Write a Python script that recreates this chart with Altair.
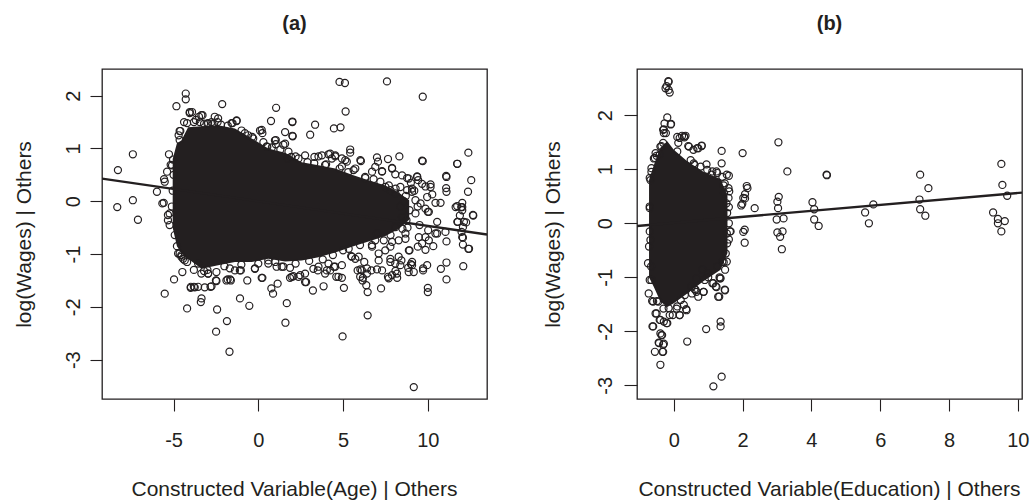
import altair as alt
import pandas as pd

INK = "#231f20"
FONT = "Liberation Sans"

# ---------------- Panel (a): Constructed Variable(Age) ----------------
a_core_x  = [-5.05, -4.8, -4.54, -4.14, -3.35, -2.37, -1.38, -0.39, 0.59, 1.58, 2.56, 3.55, 4.54, 5.52, 6.5, 7.5, 8.3, 8.9]
a_core_hi = [0.80, 1.10, 1.15, 1.40, 1.42, 1.44, 1.38, 1.19, 1.00, 0.92, 0.74, 0.68, 0.62, 0.50, 0.40, 0.30, 0.16, 0.02]
a_core_lo = [-0.50, -0.85, -0.98, -1.09, -1.28, -1.21, -1.15, -1.15, -1.09, -1.14, -1.12, -1.06, -0.97, -0.86, -0.76, -0.66, -0.52, -0.35]

a_points = [
    (-8.28, 0.59), (-7.40, 0.89), (-8.32, -0.11), (-7.40, 0.02), (-7.10, -0.35), (-5.98, 0.18), (-5.52, -1.75), (-5.58, -0.03),
    (-4.97, -1.48), (-4.48, -1.34), (-4.20, -2.03), (-4.83, 1.80), (-4.28, 2.04), (-4.28, 1.93), (-3.98, -1.62), (-3.55, -1.62),
    (-3.39, -1.91), (-3.35, -1.84), (-2.76, -1.61), (-2.49, -2.47), (-2.43, -2.05), (-1.85, -2.27), (-1.70, -2.85), (-2.13, 1.84),
    (-3.29, 1.63), (-1.08, -1.84), (-0.53, -1.98), (-0.65, -1.50), (0.77, -1.65), (0.87, -1.75), (1.14, -1.56), (1.68, -1.93),
    (1.60, -2.30), (1.05, 1.77), (0.75, 1.52), (2.01, 1.50), (2.03, 1.23), (3.35, 1.45), (3.06, 1.26), (3.22, -1.69), (3.85, -1.61),
    (4.46, 1.38), (4.85, 1.40), (4.79, 2.26), (5.11, 2.24), (5.15, 1.70), (5.42, 0.98), (5.42, 0.92), (4.97, -2.56), (5.05, -1.64),
    (4.93, -1.45), (6.45, -2.16), (6.45, -1.72), (6.37, -1.59), (7.24, -1.65), (7.59, 2.27), (7.65, 0.80), (7.00, 0.83), (8.32, 0.85),
    (9.70, 1.98), (9.70, 0.76), (9.17, -3.52), (10.0, -1.64), (10.0, -1.72), (9.72, -1.31), (11.10, 0.46), (11.10, 0.18), (11.10, -0.76),
    (11.10, -1.16), (11.10, -1.48), (11.74, 0.71), (12.39, 0.92), (12.56, 0.40), (12.68, -0.27), (12.37, 0.18), (12.39, -0.90), (12.09, -1.23),
    (12.03, -0.03), (11.97, -0.11), (12.03, -0.17), (11.89, -0.27), (11.74, -0.39), (12.13, -0.39), (12.07, -0.49), (11.99, -0.58), (12.03, -0.68),
    (11.64, -0.11), (10.45, -0.03), (10.75, -0.03), (10.16, 0.32), (10.0, -0.20), (10.55, -0.39), (10.55, -0.61), (10.77, -1.28), (10.32, -0.85),
    (9.86, -0.92), (9.17, -1.34), (8.84, -1.26), (9.0, -1.19), (9.41, -0.86), (8.92, -0.93), (8.44, -1.12), (8.09, -1.32), (8.19, -1.45),
    (7.65, -1.43), (7.30, -1.31), (7.10, -1.12), (7.79, -1.09), (6.67, -1.31), (6.17, -1.45), (6.02, -1.29), (5.86, -1.31), (6.25, -1.15),
    (5.72, -1.09), (5.48, -1.04), (4.60, -1.43), (4.46, -1.24), (4.24, -1.31), (4.04, -1.31), (3.51, -1.31), (3.25, -1.28), (2.76, -1.53),
    (2.47, -1.40), (2.07, -1.42), (1.87, -1.45), (1.87, -1.26), (1.48, -1.24), (1.08, -1.24), (0.59, -1.12), (0.20, -1.45), (-0.20, -1.28),
    (-1.03, -1.31), (-1.38, -1.31), (-1.66, -1.48), (-1.81, -1.48), (-2.50, -1.50), (-2.96, -1.37), (-3.20, -1.32), (-3.55, -1.18), (-3.80, -1.62),
    (-4.54, -1.02), (-4.44, -1.09), (-4.73, -0.99), (-4.93, -0.64), (-5.33, -0.36), (-5.23, -0.23), (-5.52, 0.37), (-5.38, 0.56), (-5.27, 0.89),
    (-5.09, 0.68), (-4.64, 1.33), (-4.64, 1.16), (-4.38, 1.50), (-4.04, 1.69), (-3.91, 1.69), (-3.45, 1.50), (-3.0, 1.47), (-2.76, 1.50),
    (-2.37, 1.57), (-1.52, 1.48), (-1.28, 1.53), (-0.99, 1.34), (-0.36, 1.22), (0.10, 1.34), (0.24, 1.29), (0.53, 1.03), (1.03, 1.16), (1.03, 1.08),
    (1.58, 1.31), (1.58, 1.09), (1.93, 0.84), (1.74, 0.81), (2.76, 0.87), (3.31, 0.84), (3.75, 0.87), (4.24, 0.90), (4.54, 0.87), (4.93, 0.81),
    (5.13, 0.78), (5.72, 0.62), (6.02, 0.78), (6.71, 0.56), (6.90, 0.65), (7.30, 0.56), (7.89, 0.62), (8.48, 0.49), (8.88, 0.43), (9.37, 0.46),
    (9.43, 0.40), (9.66, 0.33), (10.16, 0.27),
    (9.27, 0.02), (9.57, -0.04), (9.96, 0.08), (9.86, -0.14), (9.27, -0.23), (8.92, -0.17), (8.74, -0.36), (9.51, -0.45), (10.02, -0.55), (9.86, -0.68),
    (8.48, -0.30), (8.09, -0.49), (8.28, -0.74), (8.68, -0.61), (7.79, -0.86), (7.40, -0.74), (7.0, -0.61), (6.71, -0.86),
    (7.50, 0.27), (7.79, 0.21), (8.09, 0.15), (8.38, 0.27), (8.78, 0.21), (9.07, 0.24),
    (8.60, 0.00), (9.20, 0.20), (9.40, -0.10), (8.80, -0.50), (9.00, 0.35), (8.40, -0.10), (8.70, 0.10),
    (2.01, 1.51), (2.01, 1.24), (-3.36, 1.63), (-4.60, 1.33), (-5.56, 0.42), (-5.66, -0.04), (-5.17, 0.69), (-5.03, 0.79), (-5.33, -0.26), (-5.23, -0.45),
    (-4.05, 1.67), (-2.96, 1.48), (-2.40, 1.50), (-1.28, 1.52), (-1.58, 1.48), (-0.79, 1.29), (-0.30, 1.19), (0.20, 1.35), (0.49, 1.04), (0.98, 1.15),
    (1.48, 1.07), (1.78, 0.94), (-2.57, 1.60), (-3.50, 1.60), (-3.69, 1.54),
    (6.05, 0.76), (7.06, 0.75), (9.66, 0.77), (11.73, 0.71), (11.08, 0.48), (11.08, 0.25), (11.73, -0.09), (12.03, -0.11), (12.66, -0.26), (11.77, -0.39),
    (12.26, -0.40), (10.06, -0.20), (8.78, 0.44), (9.37, 0.47), (9.86, 0.28), (10.26, 0.13), (9.07, 0.18), (7.89, 0.63), (8.08, 0.51), (7.30, 0.57),
    (6.31, 0.44), (5.62, 0.59), (5.22, 0.75), (4.93, 0.66), (4.34, 0.81), (3.94, 0.69), (3.55, 0.85), (2.37, 0.81), (4.14, 0.89), (4.53, 0.85),
    (0.24, -1.45), (-1.88, -1.50), (-1.62, -1.50), (-2.47, -1.51), (-2.82, -1.62), (-3.16, -1.63), (-3.75, -1.63), (-3.99, -1.64),
    (-4.54, -1.05), (-4.64, -0.99), (-4.34, -1.12), (-3.36, -1.37), (-2.96, -1.37), (-2.47, -1.34), (-1.68, -1.27), (-1.09, -1.31), (-0.20, -1.27),
    (0.59, -1.18), (1.38, -1.24), (1.97, -1.43), (2.37, -1.43),
    (6.15, -1.50), (2.82, -1.53), (12.43, -0.90), (12.07, -0.82), (12.07, -0.69), (9.72, -1.27), (9.96, -1.21), (9.07, -1.15), (9.07, -1.21),
    (8.87, -1.34), (8.38, -1.21), (8.08, -1.18), (7.79, -1.15), (8.18, -1.37), (7.89, -1.40), (7.69, -1.46), (7.0, -1.29), (6.41, -1.37),
    (6.11, -1.31), (6.01, -1.43), (6.41, -1.27), (4.73, -1.43), (4.93, -1.21), (5.52, -1.05), (4.53, -1.24), (4.14, -1.18), (3.94, -1.37),
    (3.55, -1.24), (2.76, -1.37), (8.88, -0.93), (8.28, -1.05), (7.49, -0.93), (7.1, -0.99), (6.7, -0.83), (5.92, -1.05), (5.33, -0.90),
    (10.06, -0.74), (10.45, -0.61), (9.47, -0.68), (11.04, -0.58), (9.66, -0.80), (8.68, -0.71), (7.89, -0.77),
    # fringe of the dense cloud
    (-4.70, 1.25), (-4.20, 1.48), (-3.80, 1.50), (-3.20, 1.47), (-2.70, 1.46), (-2.20, 1.45), (-1.80, 1.43), (-0.60, 1.25),
    (0.30, 1.12), (0.80, 1.02), (1.30, 0.98), (2.20, 0.85), (2.90, 0.74), (3.30, 0.72), (4.00, 0.70), (4.80, 0.62), (5.30, 0.55),
    (6.30, 0.46), (6.80, 0.42), (7.20, 0.37), (7.70, 0.30), (8.10, 0.24),
    (-4.80, -0.85), (-4.20, -1.15), (-3.80, -1.30), (-3.00, -1.30), (-2.00, -1.23), (-1.00, -1.20), (0.00, -1.18), (1.00, -1.15),
    (2.20, -1.18), (3.00, -1.13), (3.80, -1.10), (4.40, -1.02), (5.00, -0.93), (6.00, -0.83), (6.90, -0.74), (7.80, -0.64), (8.50, -0.52),
    (-5.05, 0.20), (-5.10, -0.10), (-5.00, 0.50),
]
a_line_x = [-9.22, 13.49]
a_line_y = [0.43, -0.63]

# ---------------- Panel (b): Constructed Variable(Education) ----------------
b_core_x  = [-0.72, -0.58, -0.39, -0.19, 0.0, 0.39, 0.87, 1.36, 1.56]
b_core_hi = [0.80, 1.08, 1.40, 1.52, 1.36, 1.15, 0.95, 0.82, 0.50]
b_core_lo = [-1.00, -1.18, -1.45, -1.55, -1.48, -1.30, -1.07, -0.86, -0.55]

b_points = [
    (-0.15, 2.62), (-0.24, 2.50), (-0.15, 2.47), (-0.12, 2.42), (-0.19, 1.96), (-0.08, 1.84), (-0.27, 1.85), (-0.29, 1.74), (-0.29, 1.67),
    (0.24, 1.62), (0.34, 1.62), (0.31, 1.59), (0.10, 1.60), (0.81, 1.44), (0.68, 1.39), (0.44, 1.42), (1.39, 1.34), (1.39, 1.11), (1.60, 0.88),
    (1.61, 0.59), (1.65, -0.15), (1.48, -1.23), (1.32, -1.36), (1.36, -1.02), (1.33, -1.00), (1.36, -1.82), (1.36, -1.91), (1.39, -2.84), (1.15, -3.02),
    (0.94, -1.96), (0.87, -1.27), (0.71, -1.36), (0.39, -2.19), (0.36, -1.59), (0.17, -1.70), (-0.03, -1.70), (-0.19, -1.85), (-0.34, -2.07),
    (-0.39, -2.04), (-0.29, -2.23), (-0.44, -2.21), (-0.55, -2.38), (-0.31, -2.38), (-0.39, -2.62), (-0.60, -1.91), (-0.53, -1.67), (-0.63, -1.44),
    (-0.49, -1.44), (-0.39, -1.79), (-0.29, -1.82), (-0.15, -1.57), (0.10, -1.54), (0.29, -1.51), (0.53, -1.30), (0.63, -1.23), (1.12, -1.11), (1.22, -1.17),
    (0.83, -0.86), (0.97, -0.93), (1.26, -0.80), (1.41, -0.71), (1.51, -0.56), (1.55, -0.37), (1.54, -0.19),
    (1.55, 0.19), (1.53, 0.37), (1.46, 0.56), (1.48, 0.74), (1.41, 0.86), (1.26, 0.93), (1.12, 0.96), (0.97, 0.99), (0.78, 1.05), (0.58, 1.11), (0.49, 1.17),
    (-0.68, 0.80), (-0.70, 0.31), (-0.68, -0.31), (-0.66, -0.80), (-0.73, -1.30), (-0.58, 1.20), (-0.53, 1.30), (-0.39, 1.42),
    (2.00, 1.30), (2.14, 0.65), (2.07, 0.54), (2.07, 0.46), (1.96, 0.33), (2.35, 0.28), (2.06, -0.12), (2.06, -0.36),
    (3.04, 1.50), (3.30, 0.96), (3.05, 0.49), (3.01, 0.40), (3.03, 0.28), (2.99, 0.07), (3.19, 0.09), (3.01, -0.17), (3.09, -0.25), (3.16, -0.15), (3.14, -0.48),
    (4.03, 0.39), (4.08, 0.26), (4.08, 0.07), (4.21, -0.05), (4.44, 0.90), (4.45, 0.89),
    (5.56, 0.20), (5.67, 0.00), (5.80, 0.35),
    (7.16, 0.90), (7.40, 0.65), (7.14, 0.44), (7.16, 0.26), (7.31, 0.14),
    (9.52, 1.10), (9.55, 0.71), (9.69, 0.51), (9.28, 0.20), (9.42, 0.08), (9.62, 0.04), (9.42, 0.00), (9.52, -0.15),
    (-0.16, 2.63), (-0.21, 2.54), (-0.09, 1.83), (-0.31, 1.73), (-0.23, 1.67), (0.30, 1.61), (0.17, 1.58), (0.13, 1.49), (0.42, 1.43), (0.71, 1.39),
    (0.57, 1.36), (0.81, 1.43), (-0.31, 1.49), (-0.36, 1.43), (-0.41, 1.27), (-0.55, 1.21), (-0.65, 1.02), (-0.70, 0.84), (0.95, 1.09), (1.24, 0.96),
    (1.54, 0.90), (1.59, 0.65), (1.59, 0.47), (2.12, 0.69), (2.02, 0.47), (1.99, 0.36), (1.63, -0.15), (-0.70, 0.28), (-0.70, -0.15),
    (-0.62, -1.91), (-0.33, -2.38), (-0.43, -2.22), (-0.31, -2.25), (-0.36, -2.07), (-0.50, -1.67), (-0.41, -1.79), (-0.21, -1.85),
    (-0.60, -1.45), (-0.45, -1.45), (-0.12, -1.70), (0.17, -1.70), (0.37, -1.61), (0.08, -1.58), (0.32, -1.33), (0.66, -1.27), (0.86, -1.27),
    (1.34, -1.02), (1.29, -1.36), (1.49, -1.24), (1.24, -1.18), (1.15, -1.11), (1.54, -0.71), (1.49, -0.86), (0.66, -1.02), (0.90, -1.05),
    (0.52, -1.17), (-0.70, -1.05), (-0.75, -0.74), (-0.72, -0.43), (2.02, -0.16),
    # fringe of the dense cloud
    (-0.65, 0.95), (-0.50, 1.25), (0.10, 1.33), (0.60, 1.08), (1.10, 0.90), (1.45, 0.70),
    (-0.65, -1.05), (-0.30, -1.58), (0.20, -1.42), (0.60, -1.22), (1.00, -1.00), (1.45, -0.72),
    (1.60, 0.30), (1.60, 0.00), (1.60, -0.30),
]
b_line_x = [-1.07, 10.12]
b_line_y = [-0.05, 0.567]


def panel(core_x, core_hi, core_lo, pts, line_x, line_y, xdom, ydom, xticks, yticks,
          title, xtitle, ytitle, ytitle_x, ytick, ylabpad):
    core = pd.DataFrame({"x": core_x, "hi": core_hi, "lo": core_lo})
    dots = pd.DataFrame(pts, columns=["x", "y"])
    line = pd.DataFrame({"x": line_x, "y": line_y})
    xs = alt.Scale(domain=xdom, nice=False, zero=False)
    ys = alt.Scale(domain=ydom, nice=False, zero=False)
    xaxis = alt.Axis(values=xticks, labelExpr="'' + datum.value", grid=False, domain=False,
                     tickSize=12, tickColor=INK, tickWidth=1.1, labelFontSize=20, labelFont=FONT,
                     labelColor=INK, labelPadding=19, labelBaseline="top", labelFlush=False,
                     labelOverlap=False, title=xtitle, titleFont=FONT, titleFontSize=21,
                     titleFontWeight="normal", titleColor=INK, titleBaseline="alphabetic",
                     titleAlign="center", titleX=192, titleY=96)
    yaxis = alt.Axis(values=yticks, labelExpr="'' + datum.value", grid=False, domain=False,
                     tickSize=ytick, tickColor=INK, tickWidth=1.1, labelFontSize=20, labelFont=FONT,
                     labelColor=INK, labelPadding=ylabpad, labelAngle=270, labelAlign="center",
                     labelBaseline="alphabetic", labelFlush=False, labelOverlap=False,
                     title=ytitle, titleFont=FONT, titleFontSize=21, titleFontWeight="normal",
                     titleColor=INK, titleAngle=270, titleBaseline="alphabetic", titleAlign="center",
                     titleX=ytitle_x, titleY=165)
    area = alt.Chart(core).mark_area(color=INK, opacity=1, clip=True).encode(
        x=alt.X("x:Q", scale=xs, axis=xaxis),
        y=alt.Y("lo:Q", scale=ys, axis=yaxis),
        y2="hi:Q",
    )
    circles = alt.Chart(dots).mark_point(shape="circle", filled=False, size=50, strokeWidth=1.2,
                                         color=INK, opacity=1, clip=True).encode(
        x=alt.X("x:Q", scale=xs), y=alt.Y("y:Q", scale=ys))
    fit = alt.Chart(line).mark_line(color=INK, strokeWidth=2.3, clip=True).encode(
        x=alt.X("x:Q", scale=xs), y=alt.Y("y:Q", scale=ys))
    return alt.layer(area, circles, fit).properties(
        width=385, height=330,
        title=alt.TitleParams(title, font=FONT, fontSize=20, fontWeight="bold", color=INK,
                              baseline="alphabetic", offset=19, anchor="middle"))


pa = panel(a_core_x, a_core_hi, a_core_lo, a_points, a_line_x, a_line_y,
           [-9.22, 13.49], [-3.745, 2.505], [-5, 0, 5, 10], [-3, -2, -1, 0, 1, 2],
           "(a)", "Constructed Variable(Age) | Others", "log(Wages) | Others", -72, 12, 11)
pb = panel(b_core_x, b_core_hi, b_core_lo, b_points, b_line_x, b_line_y,
           [-1.07, 10.12], [-3.254, 2.857], [0, 2, 4, 6, 8, 10], [-3, -2, -1, 0, 1, 2],
           "(b)", "Constructed Variable(Education) | Others", "log(Wages) | Others", -78, 13, 13)

chart = alt.hconcat(pa, pb, spacing=53).configure(
    background="white", padding={"left": 12, "top": 13, "right": 0, "bottom": 0}
).configure_view(stroke=INK, strokeWidth=1.3)

chart.save("out.html", embed_options={"renderer": "svg", "actions": False})
